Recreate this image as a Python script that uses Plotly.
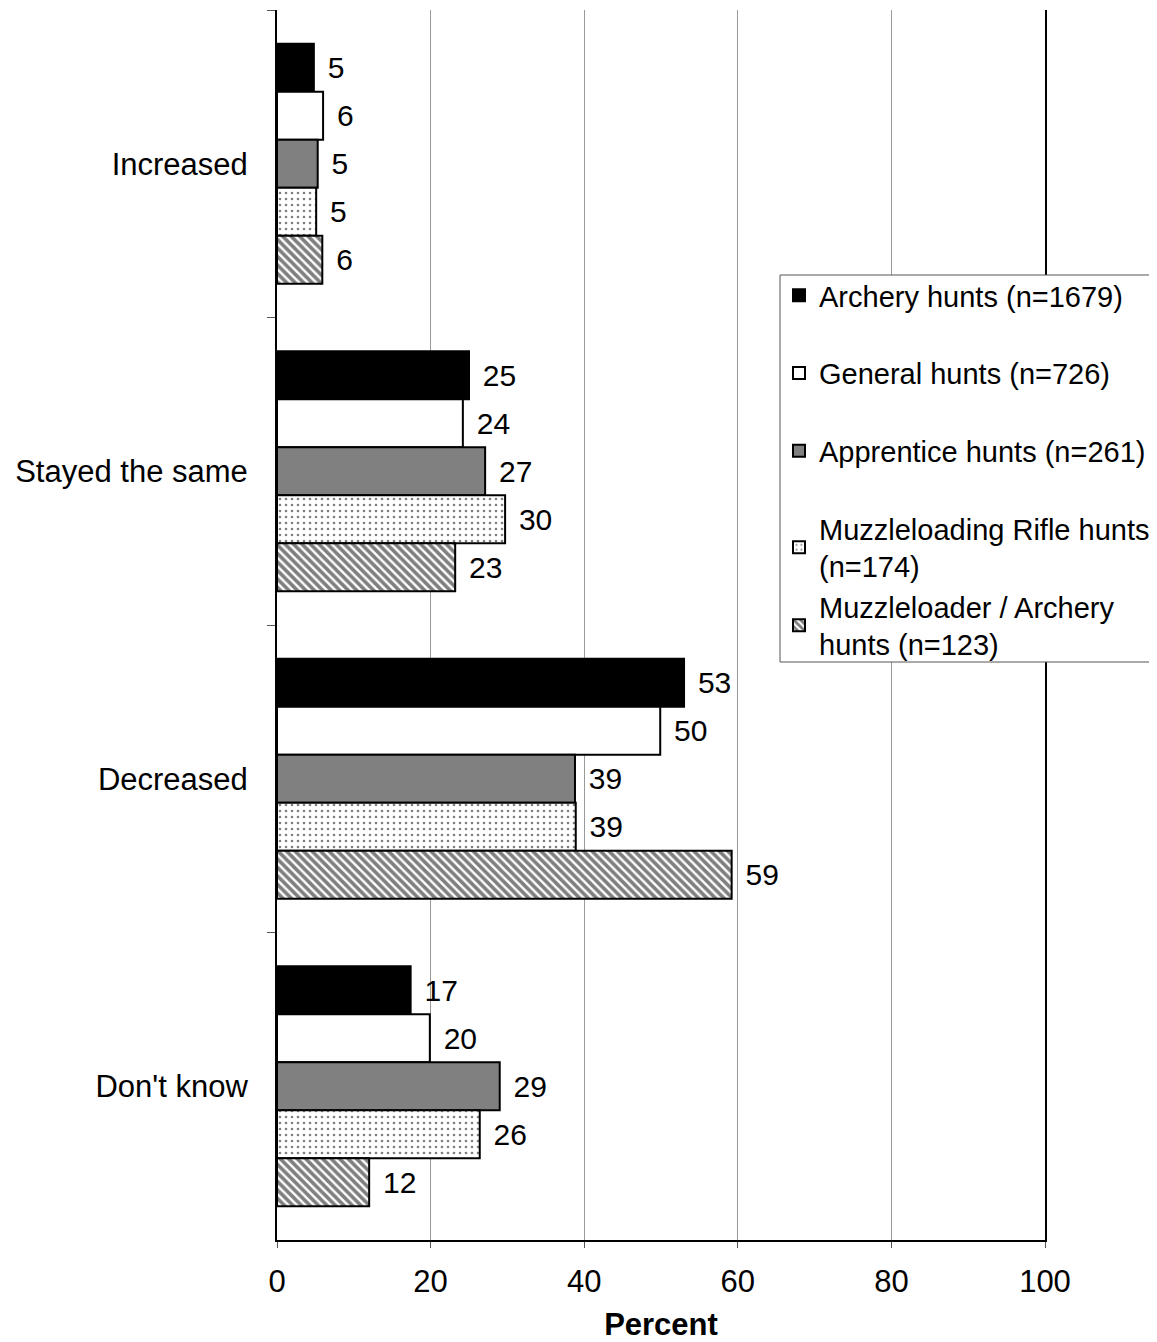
import plotly.graph_objects as go

categories = ["Increased", "Stayed the same", "Decreased", "Don't know"]
series_names = [
    "Archery hunts (n=1679)",
    "General hunts (n=726)",
    "Apprentice hunts (n=261)",
    "Muzzleloading Rifle hunts<br>(n=174)",
    "Muzzleloader / Archery<br>hunts (n=123)",
]
values = [
    [4.8, 25.0, 53.0, 17.4],
    [6.0, 24.2, 49.9, 19.9],
    [5.3, 27.1, 38.8, 29.0],
    [5.1, 29.7, 38.9, 26.4],
    [5.9, 23.2, 59.2, 12.0],
]
labels = [
    [5, 25, 53, 17],
    [6, 24, 50, 20],
    [5, 27, 39, 29],
    [5, 30, 39, 26],
    [6, 23, 59, 12],
]
x_ticks = [0, 20, 40, 60, 80, 100]

FONT = "Liberation Sans, Arial, sans-serif"
fills = ["black", "white", "#808080", "white", "white"]
patterns = [
    dict(shape=""),
    dict(shape=""),
    dict(shape=""),
    dict(shape=".", fgcolor="black", bgcolor="white", size=6, solidity=0.15),
    dict(shape="\\", fgcolor="black", bgcolor="white", size=6, solidity=0.6),
]

fig = go.Figure()
for i, name in enumerate(series_names):
    fig.add_trace(go.Bar(
        y=categories, x=values[i], orientation="h", name=name,
        marker=dict(color=fills[i], line=dict(color="black", width=2), pattern=patterns[i]),
        text=["\u00a0\u200a" + str(v) for v in labels[i]],
        textposition="outside", cliponaxis=False, constraintext="none",
        textfont=dict(size=30, color="black", family=FONT),
        legend="legend" if i < 4 else "legend2",
        legendgroup=str(i),
    ))

# page body adds an 8px offset; figure sized so the plot lands where the reference has it
OFF = 8
W, H = 1157 - OFF, 1342 - OFF
L, T = 277 - OFF, 10 - OFF
pw, ph = 768, 1230
R, B = W - L - pw, H - T - ph

def px(x):
    return (x - OFF - L) / pw

def py(y):
    return 1 - (y - OFF - T) / ph

fig.update_layout(
    width=W, height=H,
    margin=dict(l=L, r=R, t=T, b=B),
    paper_bgcolor="white", plot_bgcolor="white",
    font=dict(family=FONT, size=31, color="black"),
    barmode="group", bargap=0.22, bargroupgap=0,
    showlegend=True,
    legend=dict(
        x=px(779), y=py(270), xanchor="left", yanchor="top",
        bgcolor="rgba(0,0,0,0)", borderwidth=0,
        font=dict(size=29, color="black", family=FONT),
        traceorder="grouped", tracegroupgap=37, itemwidth=30,
    ),
    legend2=dict(
        x=px(779), y=py(581), xanchor="left", yanchor="top",
        bgcolor="rgba(0,0,0,0)", borderwidth=0,
        font=dict(size=29, color="black", family=FONT),
        itemwidth=30,
    ),
    shapes=[dict(
        type="rect", xref="paper", yref="paper",
        x0=px(780), x1=px(1170), y0=py(662), y1=py(275),
        line=dict(color="#555555", width=1), fillcolor="white", layer="above",
    )],
)
fig.update_xaxes(
    range=[0, 100], tickvals=x_ticks, ticktext=[str(t) for t in x_ticks],
    showgrid=True, gridcolor="#9a9a9a", gridwidth=1,
    showline=True, linecolor="black", linewidth=2, mirror=False,
    ticks="outside", ticklen=6, tickcolor="#555555",
    tickfont=dict(size=31), ticklabelstandoff=7, zeroline=False,
    title=dict(text="<b>Percent</b>", font=dict(size=31), standoff=15),
)
fig.update_yaxes(
    autorange="reversed", showgrid=False,
    showline=True, linecolor="black", linewidth=2, mirror=True,
    ticks="outside", ticklen=8, tickson="boundaries", tickcolor="#555555",
    tickfont=dict(size=31), ticklabelstandoff=21,
)

fig.write_html("out.html")
